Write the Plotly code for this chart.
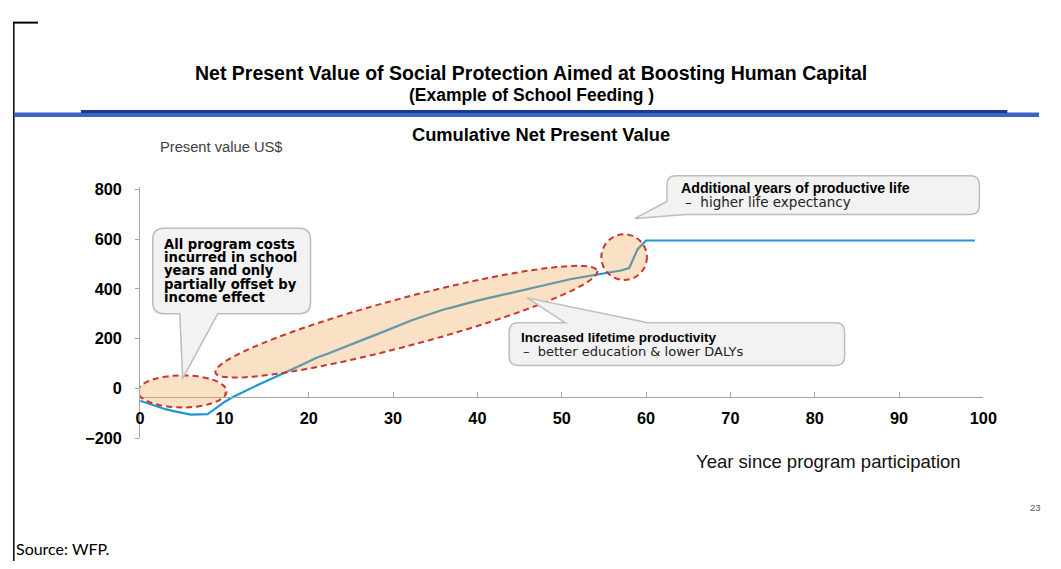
import numpy as np
import plotly.graph_objects as go

# page is 1061x569; the figure sits inside the page body (8px margin) and the
# photograph is slightly rescaled -> convert reference pixels to paper fractions
PAGE_W, PAGE_H = 1061, 569
OFF = 8
W, H = PAGE_W - 2 * OFF, PAGE_H - 2 * OFF
SX, BX = 0.9835, 4.1
SY, BY = 0.979, 3.5

# ---------------- data ----------------
years = [0, 1, 2, 3, 4, 5, 6, 7, 8, 9, 10, 11, 12, 13, 14, 15, 16, 17, 18, 19,
         20, 21, 22, 23, 24, 25, 26, 27, 28, 29, 30, 31, 32, 33, 34, 35, 36, 37, 38, 39,
         40, 41, 42, 43, 44, 45, 46, 47, 48, 49, 50, 51, 52, 53, 54, 55, 56, 57, 58, 59,
         60, 99]
npv = [-50, -62, -74, -84, -92, -100, -106, -105, -104, -80, -55, -35, -18, -2, 14, 29, 44, 59, 75, 92,
       108, 124, 136, 150, 163, 177, 190, 203, 216, 230, 245, 258, 271, 283, 295, 306, 317, 326, 336, 345,
       353, 361, 369, 377, 384, 392, 401, 409, 417, 425, 433, 439, 445, 451, 458, 464, 469, 474, 484, 560,
       595, 595]

x_ticks = [0, 10, 20, 30, 40, 50, 60, 70, 80, 90, 100]
y_ticks = [-200, 0, 200, 400, 600, 800]

title_lines = ["Net Present Value of Social Protection Aimed at Boosting Human Capital",
               "(Example of School Feeding )"]
subtitle_text = "Cumulative Net Present Value"
y_title = "Present value US$"
x_title = "Year since program participation"
source_text = "Source: WFP."
page_no = "23"

callout_left = ["All program costs", "incurred in school", "years and only",
                "partially offset by", "income effect"]
callout_mid = ["Increased lifetime productivity", "–  better education & lower DALYs"]
callout_right = ["Additional years of productive life", "–  higher life expectancy"]

# ---------------- helpers (reference pixels -> paper fractions) ----------------
def fx(r):
    x = (r - BX) / SX
    return (x - OFF) / W


def fy(r):
    y = (r - BY) / SY
    return 1 - (y - OFF) / H


def P(x, y):
    return f"{fx(x):.5f},{fy(y):.5f}"


LINE_BLUE = "#1f97d2"
BOX_FILL = "#f2f2f2"
BOX_LINE = "#bdbdbd"
ELL_FILL = "rgba(240,160,70,0.32)"
ELL_LINE = "#c8372d"
DASH = "6px,4px"

fig = go.Figure()
fig.add_trace(go.Scatter(x=years, y=npv, mode="lines",
                         line=dict(color=LINE_BLUE, width=2.2),
                         hoverinfo="skip", showlegend=False))

shapes = []

# page frame pieces
shapes.append(dict(type="line", xref="paper", yref="paper", x0=0.0008, x1=0.0008, y0=fy(20), y1=fy(575),
                   line=dict(color="#000000", width=1.5)))
shapes.append(dict(type="line", xref="paper", yref="paper", x0=0, x1=fx(37), y0=fy(20), y1=fy(20),
                   line=dict(color="#000000", width=2)))
# blue header rule
shapes.append(dict(type="rect", xref="paper", yref="paper", x0=fx(13), x1=1.0, y0=fy(115), y1=fy(110.5),
                   fillcolor="#3a64c8", line=dict(width=0)))
shapes.append(dict(type="rect", xref="paper", yref="paper", x0=fx(80), x1=fx(1008), y0=fy(111), y1=fy(108),
                   fillcolor="#1c3a94", line=dict(width=0)))


def rounded_box_bottom_wedge(x0, y0, x1, y1, r, bl, br, tip):
    return ("M " + P(x0 + r, y0) + " L " + P(x1 - r, y0) + " Q " + P(x1, y0) + " " + P(x1, y0 + r)
            + " L " + P(x1, y1 - r) + " Q " + P(x1, y1) + " " + P(x1 - r, y1)
            + " L " + P(br, y1) + " L " + P(*tip) + " L " + P(bl, y1)
            + " L " + P(x0 + r, y1) + " Q " + P(x0, y1) + " " + P(x0, y1 - r)
            + " L " + P(x0, y0 + r) + " Q " + P(x0, y0) + " " + P(x0 + r, y0) + " Z")


def rounded_box_top_wedge(x0, y0, x1, y1, r, bl, br, tip):
    return ("M " + P(x0 + r, y0) + " L " + P(bl, y0) + " L " + P(*tip) + " L " + P(br, y0)
            + " L " + P(x1 - r, y0) + " Q " + P(x1, y0) + " " + P(x1, y0 + r)
            + " L " + P(x1, y1 - r) + " Q " + P(x1, y1) + " " + P(x1 - r, y1)
            + " L " + P(x0 + r, y1) + " Q " + P(x0, y1) + " " + P(x0, y1 - r)
            + " L " + P(x0, y0 + r) + " Q " + P(x0, y0) + " " + P(x0 + r, y0) + " Z")


def rounded_box_corner_wedge(x0, y0, x1, y1, r, left_y, bottom_x, tip):
    return ("M " + P(x0 + r, y0) + " L " + P(x1 - r, y0) + " Q " + P(x1, y0) + " " + P(x1, y0 + r)
            + " L " + P(x1, y1 - r) + " Q " + P(x1, y1) + " " + P(x1 - r, y1)
            + " L " + P(bottom_x, y1) + " L " + P(*tip) + " L " + P(x0, left_y)
            + " L " + P(x0, y0 + r) + " Q " + P(x0, y0) + " " + P(x0 + r, y0) + " Z")


box_style = dict(type="path", xref="paper", yref="paper", fillcolor=BOX_FILL,
                 line=dict(color=BOX_LINE, width=1.5), layer="above")

# highlight ellipses (axis-aligned ones in data coordinates)
shapes.append(dict(type="circle", xref="x", yref="y", x0=-0.25, x1=10.25, y0=-77, y1=52,
                   fillcolor=ELL_FILL, line=dict(color=ELL_LINE, width=2, dash=DASH), layer="above"))
shapes.append(dict(type="circle", xref="x", yref="y", x0=54.7, x1=60.1, y0=436, y1=620,
                   fillcolor=ELL_FILL, line=dict(color=ELL_LINE, width=2, dash=DASH), layer="above"))

# rotated long ellipse
cx, cy, a, b, ang = 406, 321, 198, 24, np.deg2rad(15)
t = np.linspace(0, 2 * np.pi, 90)
ux, uy = np.cos(ang), -np.sin(ang)
vx, vy = np.sin(ang), np.cos(ang)
ex = cx + a * np.cos(t) * ux + b * np.sin(t) * vx
ey = cy + a * np.cos(t) * uy + b * np.sin(t) * vy
path = "M " + " L ".join(P(x, y) for x, y in zip(ex, ey)) + " Z"
shapes.append(dict(type="path", xref="paper", yref="paper", path=path, fillcolor=ELL_FILL,
                   line=dict(color=ELL_LINE, width=2, dash=DASH), layer="above"))

# callout boxes
shapes.append(dict(box_style, path=rounded_box_bottom_wedge(152, 227, 310, 313, 11, 179, 217, (182, 378))))
shapes.append(dict(box_style, path=rounded_box_top_wedge(509, 322, 845, 365, 9, 565, 648, (527, 297))))
shapes.append(dict(box_style, path=rounded_box_corner_wedge(667, 174, 980, 213, 9, 200, 686, (635, 217))))

annotations = []


def txt(text, x, y, size, bold=False, color="#000000", xanchor="left", family="Liberation Sans"):
    annotations.append(dict(text=text, x=fx(x), y=fy(y), xref="paper", yref="paper", showarrow=False,
                            xanchor=xanchor, yanchor="middle", align="center",
                            font=dict(family=family, size=size, color=color,
                                      weight="bold" if bold else "normal")))


txt(title_lines[0], 531, 70.5, 19.5, bold=True, xanchor="center")
txt(title_lines[1], 531, 92.5, 17.5, bold=True, xanchor="center")
txt(subtitle_text, 541, 133, 18.3, bold=True, xanchor="center")
txt(y_title, 157, 145, 14.7, color="#404040")
txt(x_title, 694, 462, 18.5, color="#111111")
txt(source_text, 13, 549, 16, family="Lato")
txt(page_no, 1036, 508, 9.5, color="#555555", xanchor="center")

for i, line in enumerate(callout_left):
    txt(line, 161, 243 + i * 13.4, 13.2, bold=True, family="DejaVu Sans")
txt(callout_mid[0], 519, 337, 13.5, bold=True)
txt(callout_mid[1], 521, 351, 13, color="#222222", family="DejaVu Sans")
txt(callout_right[0], 679, 186.5, 14.2, bold=True)
txt(callout_right[1], 683, 201, 13.5, color="#222222", family="DejaVu Sans")

fig.update_layout(
    width=W, height=H, margin=dict(l=0, r=0, t=0, b=0),
    paper_bgcolor="white", plot_bgcolor="white", showlegend=False,
    font=dict(family="Liberation Sans", color="#000000"),
    xaxis=dict(domain=[fx(139.3), fx(984)], range=[0, 100], anchor="free", position=fy(397),
               showline=True, linecolor="#a6a6a6", linewidth=1, ticks="inside", ticklen=5,
               tickcolor="#a6a6a6", tickvals=x_ticks, showgrid=False, zeroline=False,
               tickfont=dict(family="Liberation Sans", size=16.3, color="#000000", weight="bold"),
               ticklabelstandoff=6),
    yaxis=dict(domain=[fy(438), fy(185)], range=[-200, 812],
               showline=True, linecolor="#a6a6a6", linewidth=1, ticks="outside", ticklen=4,
               tickcolor="#a6a6a6", tickvals=y_ticks, showgrid=False, zeroline=False,
               tickfont=dict(family="Liberation Sans", size=16.3, color="#000000", weight="bold"),
               ticklabelstandoff=10),
    shapes=shapes, annotations=annotations,
)

fig.write_html("out.html")
